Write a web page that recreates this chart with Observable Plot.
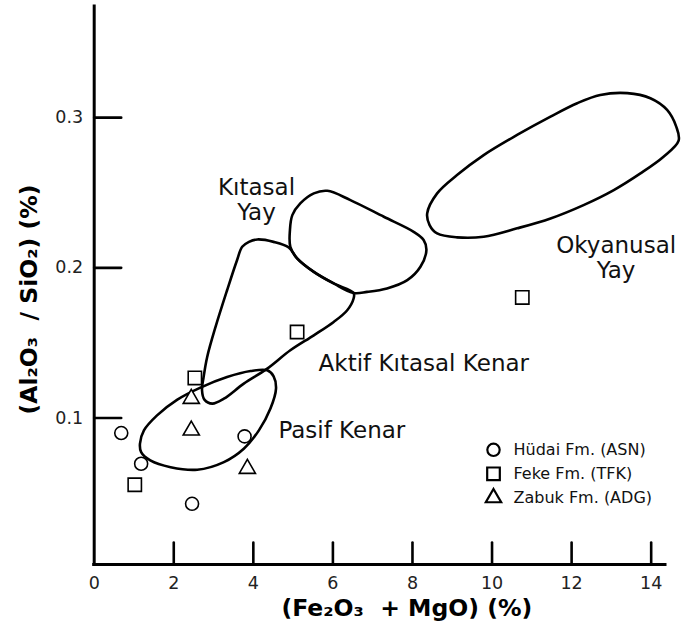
<!DOCTYPE html>
<html>
<head>
<meta charset="utf-8">
<script src="https://cdn.jsdelivr.net/npm/d3@7"></script>
<script src="https://cdn.jsdelivr.net/npm/@observablehq/plot@0.6"></script>
<style>
  body { margin: 0; background: #fff; }
  svg { display: block; }
</style>
</head>
<body>
<div id="chart"></div>
<script>
// ---- Axis ticks ----
const xTickLabels = [0, 2, 4, 6, 8, 10, 12, 14];
const xTickMarks = [2, 4, 6, 8, 10, 12, 14];
const yTickLabels = [0.1, 0.2, 0.3];
const xDomain = [0, 14.36];
const yDomain = [0.0025, 0.374];
const xTitle = "(Fe₂O₃  + MgO) (%)";
const yTitle = "(Al₂O₃  / SiO₂) (%)";

// ---- Samples ----
const hudai = [[0.68, 0.090], [1.18, 0.0696], [2.46, 0.0429], [3.78, 0.0878]];
const feke = [[1.02, 0.0556], [2.53, 0.1267], [5.10, 0.1573], [10.76, 0.1803]];
const zabuk = [[2.44, 0.1129], [2.44, 0.0918], [3.85, 0.0663]];

// ---- Tectonic setting fields (outline vertices) ----
const okyanusalYay = [[8.37,0.2363],[8.62,0.2496],[9.12,0.2618],[9.79,0.2751],[10.63,0.2885],[11.47,0.3007],[12.14,0.3096],[12.72,0.3151],[13.40,0.3163],[13.98,0.3129],[14.40,0.3051],[14.63,0.294],[14.69,0.2847],[14.31,0.274],[13.73,0.2629],[13.06,0.2518],[12.30,0.2418],[11.47,0.2329],[10.63,0.2263],[9.79,0.2207],[9.12,0.2203],[8.62,0.2229],[8.43,0.2285]];
const kitasalYay = [[4.93,0.214],[4.92,0.2251],[4.98,0.2351],[5.18,0.2429],[5.52,0.2496],[5.86,0.2513],[6.44,0.2451],[7.28,0.234],[8.03,0.224],[8.28,0.2185],[8.35,0.2118],[8.20,0.2007],[7.87,0.1918],[7.36,0.1863],[6.86,0.184],[6.52,0.1833],[6.02,0.1896],[5.52,0.1973],[5.10,0.2063]];
const aktifKitasalKenar = [[3.89,0.2173],[4.10,0.2189],[4.51,0.2173],[4.89,0.2136],[5.10,0.2063],[5.52,0.1973],[6.02,0.1896],[6.52,0.1833],[6.52,0.1796],[6.36,0.1718],[6.02,0.164],[5.52,0.1551],[4.93,0.1451],[4.35,0.1329],[3.76,0.1229],[3.26,0.1129],[2.97,0.1096],[2.77,0.1123],[2.71,0.1185],[2.75,0.1273],[2.84,0.1407],[3.05,0.1607],[3.34,0.1851],[3.59,0.2051],[3.72,0.214]];
const pasifKenar = [[1.15,0.0829],[1.25,0.0918],[1.58,0.1018],[2.09,0.1123],[2.67,0.1203],[3.34,0.1273],[3.93,0.1313],[4.35,0.1318],[4.51,0.1278],[4.57,0.1196],[4.43,0.1063],[4.14,0.0918],[3.76,0.0796],[3.26,0.0707],[2.59,0.0656],[1.92,0.0673],[1.41,0.0718],[1.18,0.0773]];

// ---- Field labels ----
const fieldLabelsCentered = [
  {text: "Kıtasal\nYay", x: 4.08, y: 0.2455},
  {text: "Okyanusal\nYay", x: 13.12, y: 0.2068}
];
const fieldLabelsLeft = [
  {text: "Aktif Kıtasal Kenar", x: 5.64, y: 0.1365},
  {text: "Pasif Kenar", x: 4.63, y: 0.0918}
];

// ---- Legend ----
const legendLabels = ["Hüdai Fm. (ASN)", "Feke Fm. (TFK)", "Zabuk Fm. (ADG)"];
const legendSymbols = ["circle", "square", "triangle"];

// Build tables
const fields = [
  ["Okyanusal Yay", okyanusalYay],
  ["Kıtasal Yay", kitasalYay],
  ["Aktif Kıtasal Kenar", aktifKitasalKenar],
  ["Pasif Kenar", pasifKenar]
].flatMap(([name, pts]) => pts.map(([x, y]) => ({name, x, y})));

const toRows = arr => arr.map(([x, y]) => ({x, y}));

const tickShape = {
  draw(context, l) { context.moveTo(0, 0); context.lineTo(0, -l); }
};

const symbolR = {circle: 6.5, square: 7.5, triangle: 6};

const legendMarks = legendLabels.flatMap((label, i) => [
  Plot.dot([label], {
    frameAnchor: "bottom-right", dx: -172, dy: -114.7 + i * 24,
    symbol: legendSymbols[i], r: symbolR[legendSymbols[i]] * 0.95,
    stroke: "black", strokeWidth: 2.2, fill: "white"
  }),
  Plot.text([label], {
    frameAnchor: "bottom-right", dx: -152, dy: -114.7 + i * 24,
    text: d => d, textAnchor: "start", lineAnchor: "middle",
    fontSize: 16, fill: "#111"
  })
]);

const sampleMark = (rows, symbol) => Plot.dot(toRows(rows), {
  x: "x", y: "y", symbol, r: symbolR[symbol],
  stroke: "black", strokeWidth: 1.6, fill: "white"
});

const chart = Plot.plot({
  width: 681,
  height: 630,
  marginLeft: 93.7,
  marginRight: 16,
  marginTop: 6,
  marginBottom: 66,
  style: {fontFamily: "'DejaVu Sans', sans-serif", background: "white", color: "black"},
  x: {domain: xDomain},
  y: {domain: yDomain},
  marks: [
    Plot.line(fields, {x: "x", y: "y", z: "name", curve: "catmull-rom-closed", stroke: "black", strokeWidth: 2.6}),
    Plot.ruleX([xDomain[0]], {stroke: "black", strokeWidth: 3, strokeLinecap: "square"}),
    Plot.ruleY([yDomain[0]], {stroke: "black", strokeWidth: 3, strokeLinecap: "square"}),
    Plot.vector(xTickMarks, {x: d => d, frameAnchor: "bottom", length: 22, anchor: "start", shape: tickShape, stroke: "black", strokeWidth: 2.6}),
    Plot.vector(yTickLabels, {y: d => d, frameAnchor: "left", length: 27, rotate: 90, anchor: "start", shape: tickShape, stroke: "black", strokeWidth: 2.6}),
    Plot.axisX({ticks: xTickLabels, tickSize: 0, tickPadding: 12, fontSize: 17.5, label: null, fill: "#222"}),
    Plot.axisY({ticks: yTickLabels, tickSize: 0, tickPadding: 11, fontSize: 17.5, label: null, tickFormat: d3.format(".1f"), fill: "#222"}),
    Plot.text([xTitle], {frameAnchor: "bottom", dx: 27, dy: 44, text: d => d, fontSize: 23.5, fontWeight: "bold", textAnchor: "middle", lineAnchor: "middle"}),
    Plot.text([yTitle], {frameAnchor: "left", dx: -64.7, dy: 14, rotate: -90, text: d => d, fontSize: 23.5, fontWeight: "bold", textAnchor: "middle", lineAnchor: "middle"}),
    Plot.text(fieldLabelsCentered, {x: "x", y: "y", text: "text", textAnchor: "middle", lineAnchor: "middle", fontSize: 23, lineHeight: 1.1, fill: "#111"}),
    Plot.text(fieldLabelsLeft, {x: "x", y: "y", text: "text", textAnchor: "start", lineAnchor: "middle", fontSize: 23, fill: "#111"}),
    sampleMark(hudai, "circle"),
    sampleMark(feke, "square"),
    sampleMark(zabuk, "triangle"),
    ...legendMarks
  ]
});

document.getElementById("chart").appendChild(chart);
</script>
</body>
</html>
